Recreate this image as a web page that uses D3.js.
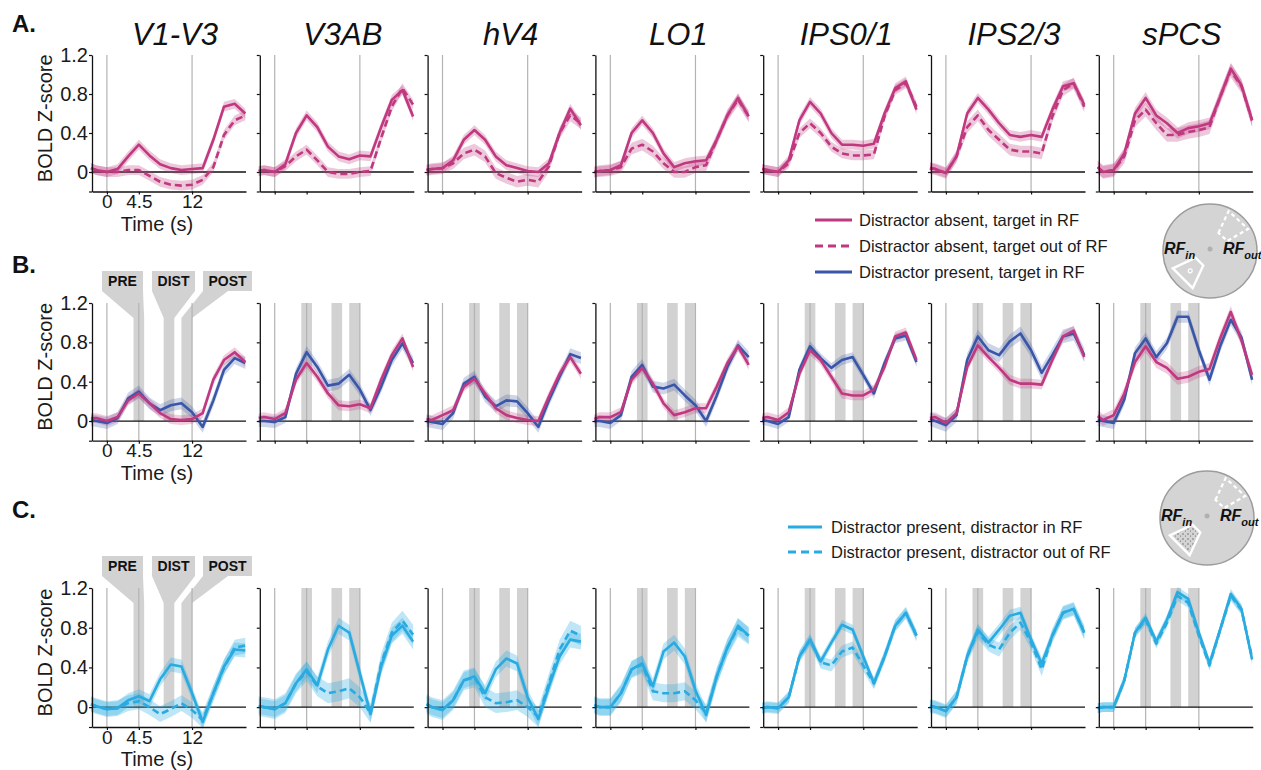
<!DOCTYPE html>
<html>
<head>
<meta charset="utf-8">
<script src="https://cdn.jsdelivr.net/npm/d3@7"></script>
<style>
  body { margin: 0; background: #fff; }
  text { font-family: "Liberation Sans", Arial, sans-serif; }
</style>
</head>
<body>
<svg id="chart" width="1261" height="770"></svg>
<script>
// sample times (s) and panel labels
const times = [-2.25, -1.5, 0, 1.5, 3, 4.5, 6, 7.5, 9, 10.5, 12, 13.5, 15, 16.5, 18, 19.5];
const regions = ["V1-V3", "V3AB", "hV4", "LO1", "IPS0/1", "IPS2/3", "sPCS"];
const yTicks = [-0.2, 0, 0.4, 0.8, 1.2];
const xTicks = [0, 4.5, 12];
const refLinesA = [0, 12];
const refLinesBC = [0, 4.5, 12];
const epochNames = ["PRE", "DIST", "POST"];
const epochStart = [3.75, 8.0, 10.5];
const epochEnd = [5.25, 9.5, 12.0];

// A. distractor absent, target in / out of RF
const absentInA = [
  [0.04, 0.02, 0.00, 0.03, 0.16, 0.28, 0.17, 0.08, 0.04, 0.02, 0.03, 0.04, 0.33, 0.67, 0.70, 0.60],
  [0.01, 0.02, 0.00, 0.08, 0.40, 0.58, 0.46, 0.26, 0.16, 0.13, 0.17, 0.16, 0.46, 0.74, 0.84, 0.57],
  [0.02, 0.03, 0.04, 0.12, 0.33, 0.43, 0.33, 0.16, 0.07, 0.04, 0.01, 0.00, 0.09, 0.40, 0.65, 0.48],
  [0.00, 0.01, 0.02, 0.07, 0.40, 0.53, 0.40, 0.19, 0.05, 0.09, 0.11, 0.12, 0.33, 0.58, 0.76, 0.57],
  [0.03, 0.02, 0.00, 0.12, 0.53, 0.72, 0.60, 0.40, 0.28, 0.28, 0.27, 0.29, 0.60, 0.86, 0.93, 0.64],
  [0.04, 0.03, -0.01, 0.16, 0.60, 0.76, 0.64, 0.50, 0.38, 0.36, 0.38, 0.36, 0.64, 0.88, 0.91, 0.69],
  [0.05, 0.00, 0.02, 0.19, 0.60, 0.76, 0.58, 0.50, 0.40, 0.45, 0.47, 0.50, 0.77, 1.06, 0.89, 0.53]
];
const absentOutA = [
  [0.04, 0.02, 0.00, 0.00, 0.02, 0.02, -0.04, -0.10, -0.13, -0.14, -0.13, -0.08, 0.05, 0.38, 0.53, 0.58],
  [0.01, 0.02, 0.00, 0.06, 0.16, 0.23, 0.12, 0.00, -0.02, -0.02, 0.00, 0.01, 0.35, 0.67, 0.86, 0.69],
  [0.02, 0.03, 0.04, 0.09, 0.19, 0.23, 0.16, -0.01, -0.06, -0.10, -0.08, -0.10, 0.06, 0.40, 0.58, 0.50],
  [0.00, 0.01, 0.02, 0.05, 0.24, 0.28, 0.21, 0.09, 0.00, 0.00, 0.05, 0.07, 0.33, 0.58, 0.74, 0.57],
  [0.03, 0.02, 0.00, 0.09, 0.40, 0.50, 0.40, 0.26, 0.19, 0.17, 0.17, 0.18, 0.57, 0.84, 0.91, 0.67],
  [0.04, 0.03, -0.01, 0.16, 0.46, 0.58, 0.43, 0.33, 0.23, 0.21, 0.21, 0.19, 0.57, 0.84, 0.91, 0.67],
  [0.05, 0.00, 0.02, 0.16, 0.53, 0.64, 0.50, 0.38, 0.38, 0.41, 0.43, 0.46, 0.77, 1.04, 0.88, 0.53]
];
const semAbsentInA = [0.05, 0.05, 0.05, 0.05, 0.05, 0.05, 0.06];
const semAbsentOutA = [0.05, 0.05, 0.06, 0.06, 0.05, 0.06, 0.07];

// B. distractor absent vs present, target in RF
const absentInB = [
  [0.03, 0.03, 0.00, 0.04, 0.21, 0.28, 0.18, 0.08, 0.02, 0.01, 0.02, 0.08, 0.42, 0.62, 0.70, 0.60],
  [0.03, 0.04, 0.02, 0.08, 0.42, 0.59, 0.45, 0.28, 0.16, 0.15, 0.17, 0.13, 0.42, 0.67, 0.84, 0.55],
  [0.02, 0.01, 0.06, 0.11, 0.35, 0.43, 0.28, 0.13, 0.06, 0.03, 0.01, 0.00, 0.25, 0.48, 0.65, 0.48],
  [0.02, 0.04, 0.04, 0.09, 0.42, 0.54, 0.38, 0.18, 0.06, 0.09, 0.13, 0.13, 0.35, 0.59, 0.76, 0.57],
  [0.03, 0.04, 0.01, 0.09, 0.48, 0.72, 0.62, 0.45, 0.28, 0.26, 0.26, 0.32, 0.55, 0.86, 0.90, 0.62],
  [0.03, 0.04, -0.02, 0.08, 0.55, 0.77, 0.65, 0.54, 0.42, 0.38, 0.38, 0.37, 0.62, 0.86, 0.92, 0.65],
  [0.05, 0.01, 0.06, 0.28, 0.60, 0.76, 0.60, 0.54, 0.43, 0.45, 0.50, 0.53, 0.84, 1.11, 0.82, 0.47]
];
const presentInB = [
  [0.01, 0.00, -0.02, 0.03, 0.23, 0.30, 0.18, 0.11, 0.16, 0.18, 0.09, -0.06, 0.21, 0.52, 0.64, 0.59],
  [0.00, 0.00, -0.01, 0.04, 0.48, 0.70, 0.55, 0.36, 0.38, 0.47, 0.32, 0.11, 0.35, 0.62, 0.79, 0.59],
  [0.00, -0.01, -0.03, 0.08, 0.38, 0.45, 0.25, 0.15, 0.21, 0.20, 0.08, -0.06, 0.21, 0.45, 0.68, 0.64],
  [0.00, 0.00, -0.02, 0.06, 0.45, 0.57, 0.35, 0.33, 0.37, 0.26, 0.16, 0.00, 0.26, 0.55, 0.77, 0.65],
  [0.01, 0.00, -0.03, 0.04, 0.52, 0.76, 0.64, 0.54, 0.62, 0.65, 0.47, 0.28, 0.59, 0.84, 0.87, 0.60],
  [0.02, 0.00, -0.04, 0.06, 0.62, 0.86, 0.72, 0.67, 0.81, 0.89, 0.72, 0.49, 0.67, 0.86, 0.89, 0.67],
  [0.01, 0.00, -0.02, 0.22, 0.69, 0.84, 0.65, 0.79, 1.06, 1.06, 0.72, 0.42, 0.76, 1.03, 0.85, 0.42]
];
const semAbsentInB = [0.05, 0.05, 0.05, 0.05, 0.05, 0.05, 0.06];
const semPresentInB = [0.06, 0.06, 0.06, 0.06, 0.05, 0.07, 0.06];

// C. distractor present, distractor in / out of RF
const distInC = [
  [0.03, 0.01, -0.02, -0.01, 0.07, 0.11, 0.06, 0.28, 0.43, 0.41, 0.14, -0.15, 0.14, 0.41, 0.58, 0.57],
  [0.01, 0.00, -0.02, 0.04, 0.24, 0.38, 0.22, 0.58, 0.82, 0.75, 0.34, -0.07, 0.41, 0.72, 0.82, 0.66],
  [0.03, 0.00, -0.03, 0.07, 0.27, 0.31, 0.14, 0.38, 0.49, 0.44, 0.10, -0.12, 0.21, 0.51, 0.68, 0.66],
  [0.02, 0.00, 0.00, 0.14, 0.38, 0.44, 0.21, 0.56, 0.65, 0.51, 0.17, -0.08, 0.31, 0.60, 0.82, 0.72],
  [-0.01, 0.00, -0.01, 0.10, 0.51, 0.68, 0.46, 0.65, 0.83, 0.78, 0.51, 0.24, 0.51, 0.82, 0.95, 0.72],
  [0.01, 0.00, -0.04, 0.10, 0.51, 0.78, 0.65, 0.78, 0.92, 0.95, 0.68, 0.44, 0.72, 0.95, 0.99, 0.75],
  [-0.01, 0.00, 0.00, 0.27, 0.75, 0.90, 0.66, 0.88, 1.16, 1.09, 0.75, 0.44, 0.78, 1.14, 0.99, 0.48]
];
const distOutC = [
  [0.03, 0.01, -0.02, -0.01, 0.04, 0.06, 0.00, -0.07, -0.02, 0.04, -0.03, -0.13, 0.14, 0.40, 0.60, 0.62],
  [0.01, 0.00, -0.02, 0.04, 0.24, 0.36, 0.21, 0.14, 0.16, 0.19, 0.10, -0.06, 0.44, 0.75, 0.87, 0.73],
  [0.03, 0.00, -0.03, 0.07, 0.27, 0.30, 0.10, 0.04, 0.05, 0.07, 0.00, -0.10, 0.24, 0.58, 0.77, 0.72],
  [0.02, 0.00, 0.00, 0.14, 0.38, 0.43, 0.16, 0.14, 0.14, 0.16, 0.07, -0.06, 0.31, 0.60, 0.80, 0.72],
  [-0.01, 0.00, -0.01, 0.10, 0.51, 0.68, 0.45, 0.42, 0.56, 0.60, 0.42, 0.24, 0.51, 0.82, 0.95, 0.72],
  [0.01, 0.00, -0.04, 0.10, 0.51, 0.76, 0.63, 0.58, 0.75, 0.85, 0.65, 0.38, 0.72, 0.95, 0.99, 0.75],
  [-0.01, 0.00, 0.00, 0.27, 0.75, 0.88, 0.64, 0.85, 1.12, 1.05, 0.72, 0.42, 0.78, 1.12, 0.98, 0.50]
];
const semDistInC = [0.07, 0.08, 0.08, 0.08, 0.05, 0.06, 0.05];
const semDistOutC = [0.08, 0.10, 0.10, 0.09, 0.06, 0.07, 0.05];

const MAGENTA = "#c0387f", BLUE = "#3a56a8", CYAN = "#29abe2";
const FONT = "Liberation Sans, Arial, sans-serif";

const rows = [
  { letter: "A.", letterY: 32, top: 55, bottom: 191.5, refLines: refLinesA, epochs: false,
    series: [
      { vals: absentOutA, sem: semAbsentOutA, color: MAGENTA, dash: "7,4", op: 0.28 },
      { vals: absentInA, sem: semAbsentInA, color: MAGENTA, dash: null, op: 0.28 }
    ] },
  { letter: "B.", letterY: 273, top: 303, bottom: 440.7, refLines: refLinesBC, epochs: true,
    series: [
      { vals: presentInB, sem: semPresentInB, color: BLUE, dash: null, op: 0.25 },
      { vals: absentInB, sem: semAbsentInB, color: MAGENTA, dash: null, op: 0.25 }
    ] },
  { letter: "C.", letterY: 518, top: 588, bottom: 727, refLines: refLinesBC, epochs: true,
    series: [
      { vals: distOutC, sem: semDistOutC, color: CYAN, dash: "7,4", op: 0.3 },
      { vals: distInC, sem: semDistInC, color: CYAN, dash: null, op: 0.3 }
    ] }
];

const svg = d3.select("#chart");
svg.append("rect").attr("width", 1261).attr("height", 770).attr("fill", "#fff");

const defs = svg.append("defs");
const pat = defs.append("pattern").attr("id", "noise").attr("width", 5).attr("height", 5)
  .attr("patternUnits", "userSpaceOnUse");
pat.append("circle").attr("cx", 1).attr("cy", 1).attr("r", 0.7).attr("fill", "#555");
pat.append("circle").attr("cx", 3.5).attr("cy", 3).attr("r", 0.6).attr("fill", "#666");

const panelW = 154, panelStep = 167.8, firstX = 92;
const GRAYBAND = "#d2d2d2";

function styleAxis(g, size) {
  g.attr("font-family", FONT).attr("font-size", size);
  g.select(".domain").attr("stroke", "#111").attr("stroke-width", 1.3);
  g.selectAll(".tick line").attr("stroke", "#111").attr("stroke-width", 1.2);
  g.selectAll(".tick text").attr("fill", "#1a1a1a");
}

// callout shapes over the first panel of rows B and C
function drawCallouts(g, x, y, x0, top) {
  const boxes = [[10, 51, 10, 51], [60, 103, 60, 103], [111, 160, 111, 136]];
  epochNames.forEach((name, k) => {
    const [b0, b1, t0, t1] = boxes[k];
    const xl = x(epochStart[k]), xr = x(epochEnd[k]);
    const pts = [
      [x0 + b0, top - 32], [x0 + b1, top - 32], [x0 + b1, top - 12], [x0 + t1, top - 12],
      [xr, top + 15], [xr, y(0)], [xl, y(0)], [xl, top + 15], [x0 + t0, top - 12]
    ];
    g.append("polygon").attr("points", pts.map(p => p.join(",")).join(" ")).attr("fill", GRAYBAND);
    g.append("text").attr("x", x0 + (b0 + b1) / 2).attr("y", top - 17)
      .attr("text-anchor", "middle").attr("font-size", 14).attr("font-weight", "bold")
      .attr("fill", "#111").text(name);
  });
}

rows.forEach(row => {
  const y = d3.scaleLinear().domain([-0.2, 1.2]).range([row.bottom, row.top]);

  svg.append("text").attr("x", 12).attr("y", row.letterY).attr("font-size", 24)
    .attr("font-weight", "bold").attr("fill", "#111").text(row.letter);

  regions.forEach((reg, i) => {
    const x0 = firstX + i * panelStep;
    const x = d3.scaleLinear().domain([-2.1, 19.6]).range([x0, x0 + panelW]);
    const g = svg.append("g");

    if (row.epochs) {
      if (i === 0) drawCallouts(g, x, y, x0, row.top);
      else {
        epochStart.forEach((t0, k) => {
          g.append("rect").attr("x", x(t0)).attr("y", y(1.2))
            .attr("width", x(epochEnd[k]) - x(t0)).attr("height", y(0) - y(1.2))
            .attr("fill", GRAYBAND);
        });
      }
    }

    row.refLines.forEach(t => {
      g.append("line").attr("x1", x(t)).attr("x2", x(t))
        .attr("y1", y(1.2)).attr("y2", y(-0.2))
        .attr("stroke", "#b3b3b3").attr("stroke-width", 1.2);
    });

    g.append("line").attr("x1", x0).attr("x2", x0 + panelW)
      .attr("y1", y(0)).attr("y2", y(0)).attr("stroke", "#111").attr("stroke-width", 1.3);

    row.series.forEach(s => {
      const sem = s.sem[i];
      const area = d3.area()
        .x((d, j) => x(times[j]))
        .y0(d => y(d - sem))
        .y1(d => y(d + sem));
      g.append("path").datum(s.vals[i]).attr("d", area)
        .attr("fill", s.color).attr("opacity", s.op);
    });
    row.series.forEach(s => {
      const line = d3.line().x((d, j) => x(times[j])).y(d => y(d));
      g.append("path").datum(s.vals[i]).attr("d", line)
        .attr("fill", "none").attr("stroke", s.color).attr("stroke-width", 2.6)
        .attr("stroke-linejoin", "round")
        .attr("stroke-dasharray", s.dash);
    });

    const yAxis = d3.axisLeft(y).tickValues(yTicks).tickSize(3).tickSizeOuter(0).tickPadding(1)
      .tickFormat(d => (i === 0 && d >= 0) ? (d === 0 ? "0" : d3.format(".1f")(d)) : "");
    g.append("g").attr("transform", `translate(${x0},0)`).call(yAxis).call(styleAxis, 20);

    const xAxis = d3.axisBottom(x).tickValues(xTicks).tickSize(3).tickSizeOuter(0).tickPadding(0)
      .tickFormat(d => i === 0 ? String(d) : "");
    g.append("g").attr("transform", `translate(0,${row.bottom})`).call(xAxis).call(styleAxis, 19);

    if (i === 0) {
      g.append("text").attr("x", x0 + 65).attr("y", row.bottom + 39)
        .attr("text-anchor", "middle").attr("font-size", 20).attr("fill", "#1a1a1a").text("Time (s)");
      g.append("text")
        .attr("transform", `translate(52,${(row.top + row.bottom) / 2 - 5}) rotate(-90)`)
        .attr("text-anchor", "middle").attr("font-size", 20).attr("fill", "#1a1a1a")
        .text("BOLD Z-score");
    }
    if (row.letter === "A.") {
      svg.append("text").attr("x", x0 + 83).attr("y", 45).attr("text-anchor", "middle")
        .attr("font-size", 31).attr("font-style", "italic").attr("fill", "#111").text(reg);
    }
  });
});

// legends
function drawLegend(items, lx0, lx1, tx, ys) {
  items.forEach((it, k) => {
    svg.append("line").attr("x1", lx0).attr("x2", lx1).attr("y1", ys[k]).attr("y2", ys[k])
      .attr("stroke", it.color).attr("stroke-width", 3).attr("stroke-dasharray", it.dash);
    svg.append("text").attr("x", tx).attr("y", ys[k]).attr("dy", "0.35em")
      .attr("font-size", 16.5).attr("fill", "#1a1a1a").text(it.label);
  });
}
drawLegend([
  { label: "Distractor absent, target in RF", color: MAGENTA, dash: null },
  { label: "Distractor absent, target out of RF", color: MAGENTA, dash: "8,5" },
  { label: "Distractor present, target in RF", color: BLUE, dash: null }
], 815, 852, 859, [220, 246, 272]);
drawLegend([
  { label: "Distractor present, distractor in RF", color: CYAN, dash: null },
  { label: "Distractor present, distractor out of RF", color: CYAN, dash: "8,5" }
], 788, 822, 831, [527, 552]);

// display icons
function sector(a0, a1, r0, r1) {
  const p = (a, r) => [r * Math.cos(a * Math.PI / 180), r * Math.sin(a * Math.PI / 180)];
  return [p(a0, r0), p(a0, r1), p(a1, r1), p(a1, r0)].map(q => q.join(",")).join(" ");
}
function drawIcon(cx, cy, noisy) {
  const g = svg.append("g").attr("transform", `translate(${cx},${cy})`);
  g.append("circle").attr("r", 47).attr("fill", "#d4d4d4").attr("stroke", "#9c9c9c").attr("stroke-width", 1.5);
  g.append("circle").attr("cy", -2).attr("r", 2.5).attr("fill", "#b0b0b0");
  g.append("polygon").attr("points", sector(115, 155, 16, 41))
    .attr("fill", noisy ? "url(#noise)" : "none").attr("stroke", "#fff").attr("stroke-width", 2.4);
  if (!noisy) {
    g.append("circle").attr("cx", 28 * Math.cos(135 * Math.PI / 180)).attr("cy", 28 * Math.sin(135 * Math.PI / 180))
      .attr("r", 2).attr("fill", "none").attr("stroke", "#fff").attr("stroke-width", 1.2);
  }
  g.append("polygon").attr("points", sector(-65, -30, 20, 44))
    .attr("fill", "none").attr("stroke", "#fff").attr("stroke-width", 2.2).attr("stroke-dasharray", "4,3");
  [[-46, "in"], [13, "out"]].forEach(([lx, sub]) => {
    const t = g.append("text").attr("x", lx).attr("y", 3).attr("font-size", 16)
      .attr("font-weight", "bold").attr("font-style", "italic").attr("fill", "#111");
    t.append("tspan").text("RF");
    t.append("tspan").attr("font-size", 11).attr("dy", 5).text(sub);
  });
}
drawIcon(1210, 251, false);
drawIcon(1207, 518, true);
</script>
</body>
</html>
